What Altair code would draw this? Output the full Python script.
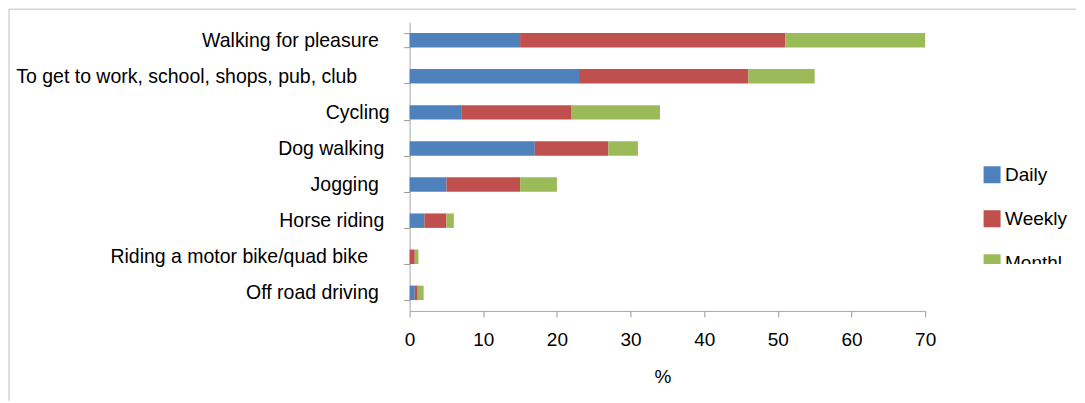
import altair as alt
import pandas as pd

# The sheet's labels carry trailing blanks; a zero-width space keeps them from being trimmed.
NB = "\u00a0"
END = "\u200b"

categories = [
    "Walking for pleasure" + NB * 2 + END,
    "To get to work, school, shops, pub, club" + NB * 6 + END,
    "Cycling",
    "Dog walking" + NB + END,
    "Jogging" + NB * 2 + END,
    "Horse riding" + NB + END,
    "Riding a motor bike/quad bike" + NB * 4 + END,
    "Off road driving" + NB * 2 + END,
]
daily = [15, 23, 7, 17, 5, 2, 0, 0.7]
weekly = [36, 23, 15, 10, 10, 3, 0.7, 0.4]
monthly = [19, 9, 12, 4, 5, 1, 0.5, 0.8]
series = ["Daily", "Weekly", "Monthly"]
legend_labels = ["Daily", "Weekly", "Monthl"]
colors = ["#4F81BD", "#C0504D", "#9BBB59"]
x_ticks = [0, 10, 20, 30, 40, 50, 60, 70]

FONT = "Liberation Sans"

rows = []
for s_i, (s, vals) in enumerate(zip(series, [daily, weekly, monthly])):
    for c, v in zip(categories, vals):
        rows.append({"category": c, "series": s, "value": v, "order": s_i})
df = pd.DataFrame(rows)

W, H = 516, 289

color_scale = alt.Scale(domain=series, range=colors)

bars = alt.Chart(df).mark_bar().encode(
    x=alt.X(
        "value:Q",
        stack="zero",
        scale=alt.Scale(domain=[0, 70], nice=False),
        axis=alt.Axis(values=x_ticks, title="%", grid=False, tickSize=6,
                      labelPadding=14, titlePadding=18, labelFlush=False,
                      titleX=253),
    ),
    y=alt.Y(
        "category:N",
        sort=categories,
        scale=alt.Scale(paddingInner=0.6, paddingOuter=0.3),
        axis=alt.Axis(title=None, tickBand="extent", labelLimit=600,
                      tickSize=6, labelPadding=14.5, labelFontSize=19.5),
    ),
    color=alt.Color("series:N", scale=color_scale, legend=None),
    order=alt.Order("order:Q"),
)

frame_v = alt.Chart(alt.Data(values=[{}])).mark_rule(color="#BFBFBF", strokeWidth=1).encode(
    x=alt.value(-401), y=alt.value(-13), y2=alt.value(379)
)
frame_h = alt.Chart(alt.Data(values=[{}])).mark_rule(color="#BFBFBF", strokeWidth=1).encode(
    x=alt.value(-401), x2=alt.value(667), y=alt.value(-13)
)

main = alt.layer(bars, frame_v, frame_h).properties(width=W, height=H)

leg_df = pd.DataFrame({"series": series, "label": legend_labels, "i": list(range(len(series)))})
leg_y = alt.Y("i:Q", scale=alt.Scale(domain=[-3.47, 2.03], reverse=True, nice=False, zero=False), axis=None)
sq = alt.Chart(leg_df).mark_square(size=289, opacity=1, clip=True).encode(
    x=alt.value(17), y=leg_y,
    color=alt.Color("series:N", scale=color_scale, legend=None),
)
tx = alt.Chart(leg_df).mark_text(align="left", baseline="middle", fontSize=19, font=FONT,
                                 clip=True, color="black").encode(
    x=alt.value(30), y=leg_y, text="label:N"
)
legend = alt.layer(sq, tx).properties(width=100, height=242)

chart = alt.hconcat(main, legend, spacing=50, bounds="flush").properties(
    padding=0
).configure_view(strokeWidth=0).configure_axis(
    labelFont=FONT, titleFont=FONT, labelFontSize=19, titleFontSize=19,
    labelColor="black", titleColor="black", titleFontWeight="normal",
    domainColor="#A6A6A6", tickColor="#999999",
)

chart.save("out.html", embed_options={"renderer": "svg", "actions": False})
